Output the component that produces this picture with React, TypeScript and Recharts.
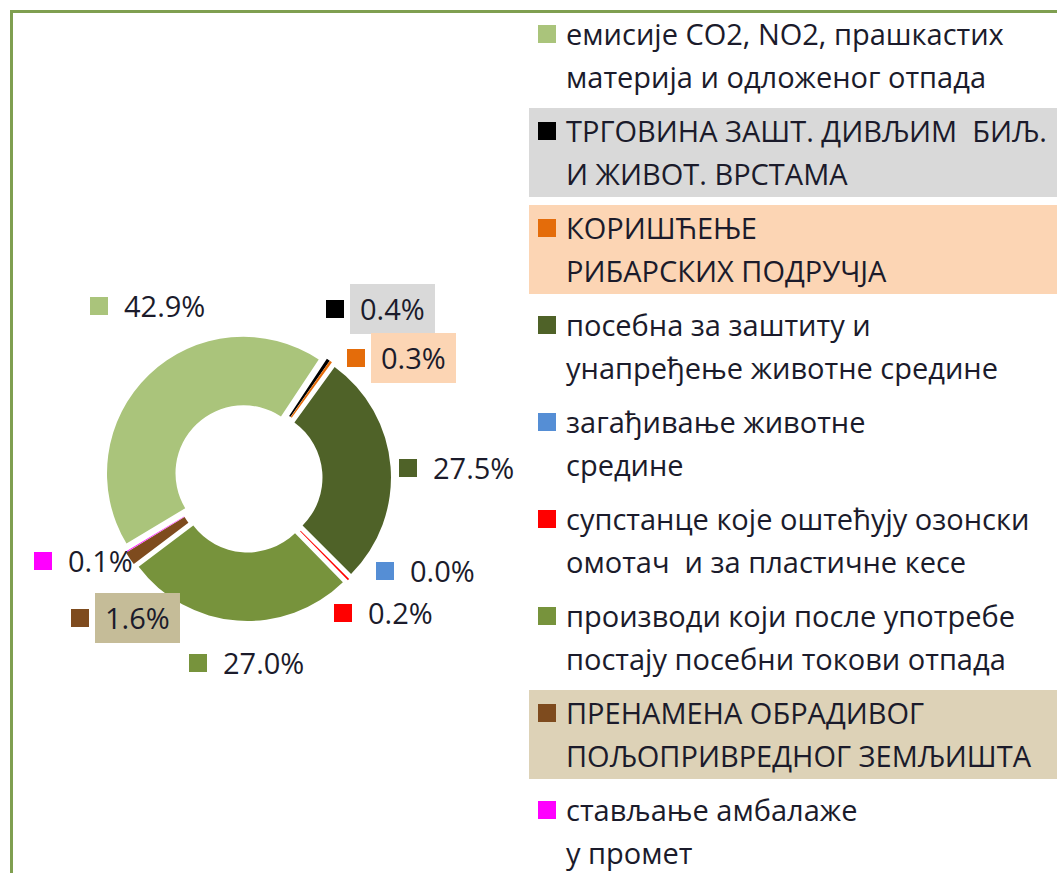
import { PieChart, Pie, Cell, Legend } from 'recharts';

// Shares of the total, in the order of the legend
const CATEGORIES = [
  'емисије CO2, NO2, прашкастих\nматерија и одложеног отпада',
  'ТРГОВИНА ЗАШТ. ДИВЉИМ  БИЉ.\nИ ЖИВОТ. ВРСТАМА',
  'КОРИШЋЕЊЕ\nРИБАРСКИХ ПОДРУЧЈА',
  'посебна за заштиту и\nунапређење животне средине',
  'загађивање животне\nсредине',
  'супстанце које оштећују озонски\nомотач  и за пластичне кесе',
  'производи који после употребе\nпостају посебни токови отпада',
  'ПРЕНАМЕНА ОБРАДИВОГ\nПОЉОПРИВРЕДНОГ ЗЕМЉИШТА',
  'стављање амбалаже\nу промет',
];
const SHARES = [42.9, 0.4, 0.3, 27.5, 0.0, 0.2, 27.0, 1.6, 0.1];

const COLORS = ['#aac47b', '#000000', '#e46c0a', '#4f6228', '#558ed5', '#ff0000', '#77933c', '#7e4b1e', '#ff00ff'];
const LEGEND_BG = [null, '#d9d9d9', '#fcd5b4', null, null, null, null, '#ddd2b7', null];
const LABEL_BG = [null, '#d9d9d9', '#fcd5b4', null, null, null, null, '#c5bc98', null];

// where each data label sits, relative to the pie centre (hand placed, like in the original)
const LABEL_SPOTS: [number, number][] = [
  [-149, -172], [87, -169], [108, -120], [160, -10], [137, 93],
  [95, 135], [-50, 185], [-168, 140], [-205, 83],
];

const FONT = "'Open Sans', sans-serif";
const FS = 29;
const TEXT = '#1b1b2b';
const CX = 248;
const CY = 478;
const INNER = 68;
const OUTER = 136.5;
const EXPLODE = 6.5;
const FIRST_SLICE_ANGLE = 239; // clockwise from 12 o'clock
const START = 90 - FIRST_SLICE_ANGLE;

const data = CATEGORIES.map((name, i) => ({ name, value: SHARES[i] }));
const total = SHARES.reduce((a, b) => a + b, 0);

// offset of each exploded slice along its own mid angle
const offsets = (() => {
  let cum = 0;
  return SHARES.map((v) => {
    const mid = START - ((cum + v / 2) / total) * 360;
    cum += v;
    const rad = (mid * Math.PI) / 180;
    return { dx: EXPLODE * Math.cos(rad), dy: -EXPLODE * Math.sin(rad) };
  });
})();

const charW = (c: string) => (c === '.' ? 0.267 : c === '%' ? 0.83 : 0.572);
const textWidth = (s: string, fs: number) => s.split('').reduce((a, c) => a + charW(c) * fs, 0);

const renderLabel = (props: any) => {
  const { cx, cy, index, value } = props;
  const [ox, oy] = LABEL_SPOTS[index];
  const x = cx + ox;
  const y = cy + oy;
  const text = `${Number(value).toFixed(1)}%`;
  const bg = LABEL_BG[index];
  return (
    <g key={`lbl-${index}`}>
      {bg && <rect x={x + 15} y={y - 25} width={textWidth(text, FS) + 20} height={50} fill={bg} />}
      <rect x={x - 9} y={y - 9} width={18} height={18} fill={COLORS[index]} />
      <text x={x + 25} y={y + 11} fontSize={FS} fontFamily={FONT} fill={TEXT}>
        {text}
      </text>
    </g>
  );
};

function LegendBox() {
  return (
    <div style={{ fontFamily: FONT, fontSize: FS, color: TEXT, lineHeight: '43px' }}>
      {CATEGORIES.map((name, i) => (
        <div
          key={name}
          style={{
            position: 'relative',
            height: 89,
            marginBottom: 8,
            background: LEGEND_BG[i] ?? 'transparent',
            paddingLeft: 37,
            paddingTop: 1,
            boxSizing: 'border-box',
            whiteSpace: 'pre',
            textAlign: 'left',
          }}
        >
          <div style={{ position: 'absolute', left: 9, top: 14, width: 18, height: 18, background: COLORS[i] }} />
          {name.split('\n').map((line) => (
            <div key={line}>{line}</div>
          ))}
        </div>
      ))}
    </div>
  );
}

export default function App() {
  return (
    <div style={{ position: 'fixed', left: 0, top: 0, width: 1057, height: 873, overflow: 'hidden', background: '#fff' }}>
      <div
        style={{
          position: 'absolute', left: 10, top: 10, width: 1200, height: 1000,
          border: '3px solid #7f9f50', boxSizing: 'border-box',
        }}
      />
      <div style={{ position: 'absolute', left: 0, top: 0 }}>
        <PieChart width={1057} height={873} margin={{ top: 0, right: 0, bottom: 0, left: 0 }}>
          {SHARES.map((_, j) => (
            <Pie
              key={`slice-${j}`}
              data={data}
              dataKey="value"
              nameKey="name"
              cx={CX + offsets[j].dx}
              cy={CY + offsets[j].dy}
              innerRadius={INNER}
              outerRadius={OUTER}
              startAngle={START}
              endAngle={START - 360}
              stroke="none"
              legendType="none"
              isAnimationActive={false}
            >
              {data.map((d, i) => (
                <Cell key={d.name} fill={i === j ? COLORS[i] : 'transparent'} />
              ))}
            </Pie>
          ))}
          <Pie
            data={data}
            dataKey="value"
            nameKey="name"
            cx={CX}
            cy={CY}
            innerRadius={INNER}
            outerRadius={OUTER}
            startAngle={START}
            endAngle={START - 360}
            stroke="none"
            fill="transparent"
            legendType="square"
            label={renderLabel}
            labelLine={false}
            isAnimationActive={false}
          >
            {data.map((d) => (
              <Cell key={d.name} fill="transparent" />
            ))}
          </Pie>
          <Legend
            layout="vertical"
            align="right"
            verticalAlign="top"
            content={() => <LegendBox />}
            wrapperStyle={{ left: 529, top: 11, width: 560, margin: 0 }}
          />
        </PieChart>
      </div>
    </div>
  );
}
